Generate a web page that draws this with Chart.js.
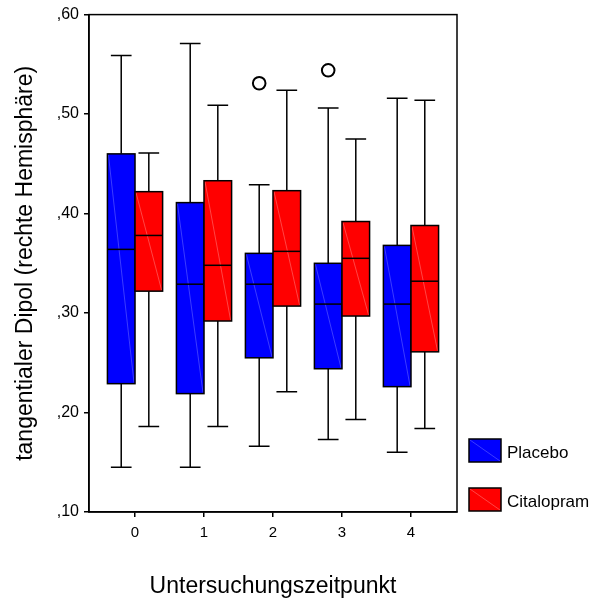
<!DOCTYPE html>
<html>
<head>
<meta charset="utf-8">
<script src="https://cdn.jsdelivr.net/npm/chart.js@4/dist/chart.umd.min.js"></script>
<style>
  html, body { margin: 0; padding: 0; background: #fff; }
  #c { display: block; }
</style>
</head>
<body>
<canvas id="c" width="606" height="601"></canvas>
<script>
// ---- Data ----
const categories = ['0', '1', '2', '3', '4'];
const seriesNames = ['Placebo', 'Citalopram'];
const yTickValues = [0.1, 0.2, 0.3, 0.4, 0.5, 0.6];

const placeboMin    = [0.145, 0.145, 0.166, 0.173, 0.160];
const placeboQ1     = [0.229, 0.219, 0.255, 0.244, 0.226];
const placeboMedian = [0.364, 0.329, 0.329, 0.309, 0.309];
const placeboQ3     = [0.460, 0.411, 0.360, 0.350, 0.368];
const placeboMax    = [0.559, 0.571, 0.429, 0.506, 0.516];

const citalopramMin    = [0.186, 0.186, 0.221, 0.193, 0.184];
const citalopramQ1     = [0.322, 0.292, 0.307, 0.297, 0.261];
const citalopramMedian = [0.378, 0.348, 0.362, 0.355, 0.332];
const citalopramQ3     = [0.422, 0.433, 0.423, 0.392, 0.388];
const citalopramMax    = [0.461, 0.509, 0.524, 0.475, 0.514];

// outliers: [category index, value]
const placeboOutliers = [[2, 0.531], [3, 0.544]];
const citalopramOutliers = [];

// ---- Styling ----
const FONT = '"Liberation Sans", Arial, Helvetica, sans-serif';
const colors = ['#0000ff', '#ff0000'];
const diagColors = ['rgba(120,120,255,0.7)', 'rgba(255,140,140,0.7)'];
const BOX_W = 0.4;        // box width in category units
const CAP_W = 0.3;        // whisker cap width in category units

const groups = [
  { min: placeboMin, q1: placeboQ1, med: placeboMedian, q3: placeboQ3, max: placeboMax, side: -1 },
  { min: citalopramMin, q1: citalopramQ1, med: citalopramMedian, q3: citalopramQ3, max: citalopramMax, side: 1 }
];

function outlierPoints(list, side) {
  return list.map(([c, v]) => ({ x: c + side * BOX_W / 2, y: v }));
}

const boxPlugin = {
  id: 'boxes',
  beforeDatasetsDraw(chart) {
    const { ctx, scales: { x, y } } = chart;
    ctx.save();
    groups.forEach((g, gi) => {
      categories.forEach((cat, i) => {
        const cx = i + g.side * BOX_W / 2;
        const xc = x.getPixelForValue(cx);
        const xl = x.getPixelForValue(cx - BOX_W / 2);
        const xr = x.getPixelForValue(cx + BOX_W / 2);
        const capL = x.getPixelForValue(cx - CAP_W / 2);
        const capR = x.getPixelForValue(cx + CAP_W / 2);
        const yMin = y.getPixelForValue(g.min[i]);
        const yQ1 = y.getPixelForValue(g.q1[i]);
        const yMed = y.getPixelForValue(g.med[i]);
        const yQ3 = y.getPixelForValue(g.q3[i]);
        const yMax = y.getPixelForValue(g.max[i]);

        ctx.strokeStyle = '#000';
        ctx.lineWidth = 1.5;
        // whiskers
        ctx.beginPath();
        ctx.moveTo(xc, yQ3); ctx.lineTo(xc, yMax);
        ctx.moveTo(capL, yMax); ctx.lineTo(capR, yMax);
        ctx.moveTo(xc, yQ1); ctx.lineTo(xc, yMin);
        ctx.moveTo(capL, yMin); ctx.lineTo(capR, yMin);
        ctx.stroke();
        // box
        ctx.fillStyle = colors[gi];
        ctx.fillRect(xl, yQ3, xr - xl, yQ1 - yQ3);
        // faint diagonal
        ctx.strokeStyle = diagColors[gi];
        ctx.lineWidth = 0.7;
        ctx.beginPath();
        ctx.moveTo(xl + 1, yQ3 + 1); ctx.lineTo(xr - 1, yQ1 - 1);
        ctx.stroke();
        ctx.strokeStyle = '#000';
        ctx.lineWidth = 1.5;
        ctx.strokeRect(xl, yQ3, xr - xl, yQ1 - yQ3);
        // median
        ctx.beginPath();
        ctx.moveTo(xl, yMed); ctx.lineTo(xr, yMed);
        ctx.stroke();
      });
    });
    ctx.restore();
  },
  afterDraw(chart) {
    const { ctx, chartArea } = chart;
    ctx.save();
    // frame
    ctx.strokeStyle = '#000';
    ctx.lineWidth = 1.5;
    ctx.strokeRect(chartArea.left, chartArea.top, chartArea.right - chartArea.left, chartArea.bottom - chartArea.top);
    // legend
    const lx = chartArea.right + 12;
    const tops = [439, 488];
    seriesNames.forEach((name, i) => {
      const top = tops[i];
      ctx.fillStyle = colors[i];
      ctx.fillRect(lx, top, 32, 23);
      ctx.strokeStyle = diagColors[i];
      ctx.lineWidth = 0.7;
      ctx.beginPath();
      ctx.moveTo(lx + 1, top + 1); ctx.lineTo(lx + 31, top + 22);
      ctx.stroke();
      ctx.strokeStyle = '#000';
      ctx.lineWidth = 1.5;
      ctx.strokeRect(lx, top, 32, 23);
      ctx.fillStyle = '#000';
      ctx.font = '17px ' + FONT;
      ctx.textBaseline = 'middle';
      ctx.textAlign = 'left';
      ctx.fillText(name, lx + 38, top + 14);
    });
    ctx.restore();
  }
};

new Chart(document.getElementById('c'), {
  type: 'scatter',
  data: {
    datasets: [
      {
        label: 'Placebo outliers',
        data: outlierPoints(placeboOutliers, -1),
        pointStyle: 'circle',
        pointRadius: 6.3,
        pointBorderWidth: 2,
        borderColor: '#000',
        backgroundColor: '#fff'
      },
      {
        label: 'Citalopram outliers',
        data: outlierPoints(citalopramOutliers, 1),
        pointStyle: 'circle',
        pointRadius: 6.3,
        pointBorderWidth: 2,
        borderColor: '#000',
        backgroundColor: '#fff'
      }
    ]
  },
  options: {
    responsive: false,
    animation: false,
    events: [],
    layout: { padding: { top: 13, right: 149, left: 0, bottom: 0 } },
    plugins: { legend: { display: false }, tooltip: { enabled: false } },
    scales: {
      x: {
        type: 'linear',
        min: -0.667,
        max: 4.667,
        afterBuildTicks: s => { s.ticks = categories.map((c, i) => ({ value: i })); },
        afterFit: s => { s.height = 89; },
        ticks: {
          callback: v => categories[v],
          color: '#000',
          font: { family: FONT, size: 15 },
          padding: 7,
          maxRotation: 0
        },
        grid: { drawOnChartArea: false, drawTicks: true, tickLength: 5, color: '#000', lineWidth: 1.5 },
        border: { display: true, color: '#000', width: 1.5 },
        title: {
          display: true,
          text: 'Untersuchungszeitpunkt',
          color: '#000',
          font: { family: FONT, size: 23 },
          padding: { top: 0, bottom: 1 }
        }
      },
      y: {
        type: 'linear',
        min: 0.1,
        max: 0.6,
        afterBuildTicks: s => { s.ticks = yTickValues.map(v => ({ value: v })); },
        afterFit: s => { s.width = 89; },
        ticks: {
          callback: v => ',' + v.toFixed(2).split('.')[1],
          color: '#000',
          font: { family: FONT, size: 16 },
          padding: 5
        },
        grid: { drawOnChartArea: false, drawTicks: true, tickLength: 5, color: '#000', lineWidth: 1.5 },
        border: { display: true, color: '#000', width: 1.5 },
        title: {
          display: true,
          text: 'tangentialer Dipol (rechte Hemisphäre)',
          color: '#000',
          font: { family: FONT, size: 23 },
          padding: { top: 12, bottom: 0 }
        }
      }
    }
  },
  plugins: [boxPlugin]
});
</script>
</body>
</html>
